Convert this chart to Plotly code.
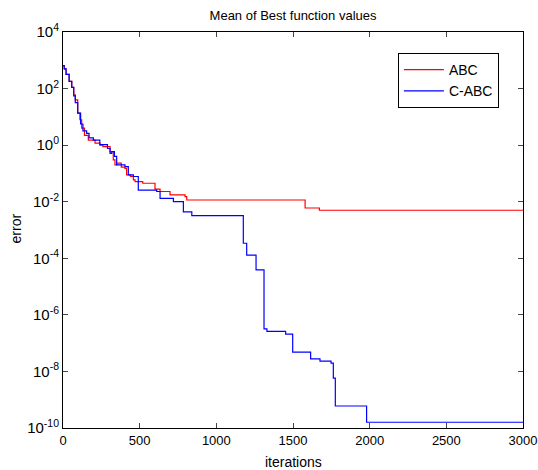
import plotly.graph_objects as go

# ABC (red) – iteration where value changes, and mean best value
abc_iter = [0, 8, 20, 40, 57, 70, 80, 96, 110, 122, 140, 165, 209, 241, 260, 307, 328, 339, 350,
            380, 404, 415, 440, 459, 470, 520, 567, 600, 633, 698, 796, 807, 1579, 1672, 3000]
abc_val = [6.5e2, 5.0e2, 3.2e2, 1.8e2, 1.1e2, 60, 40, 13.5, 7.9, 4.0, 2.2, 1.5, 1.17, 1.0, 0.89,
           0.59, 0.30, 0.20, 0.23, 0.166, 0.15, 0.089, 0.079, 0.059, 0.051, 0.045, 0.045, 0.028,
           0.023, 0.0174, 0.0151, 0.0115, 0.0060, 0.0050, 0.0050]

# C-ABC (blue)
cabc_iter = [0, 8, 20, 40, 57, 70, 80, 96, 115, 130, 154, 170, 198, 240, 290, 307, 318, 335, 350,
             404, 426, 459, 491, 611, 633, 720, 785, 840, 1176, 1198, 1259, 1311, 1330, 1452,
             1498, 1615, 1676, 1748, 1763, 1776, 1980, 3000]
cabc_val = [6.5e2, 5.0e2, 3.2e2, 1.8e2, 1.1e2, 55, 32, 13.5, 5.6, 3.2, 2.6, 1.8, 1.5, 1.05, 0.76,
            0.51, 0.59, 0.40, 0.20, 0.174, 0.089, 0.078, 0.0255, 0.023, 0.0132, 0.0100, 0.0044,
            0.0032, 3.4e-4, 1.3e-4, 3.9e-5, 3.2e-7, 2.6e-7, 2.1e-7, 4.8e-8, 2.8e-8, 2.3e-8,
            1.95e-8, 5.8e-9, 6.0e-10, 1.6e-10, 1.6e-10]

x_ticks = [0, 500, 1000, 1500, 2000, 2500, 3000]
y_exps = [4, 2, 0, -2, -4, -6, -8, -10]
y_ticks = [10.0 ** e for e in y_exps]
y_ticktext = ["10<sup>%d</sup>" % e for e in y_exps]

FONT = "Liberation Sans, Arial, sans-serif"

fig = go.Figure()
fig.add_trace(go.Scatter(x=abc_iter, y=abc_val, mode="lines", name="ABC",
                         line=dict(color="#ff0000", width=1.2, shape="hv")))
fig.add_trace(go.Scatter(x=cabc_iter, y=cabc_val, mode="lines", name="C-ABC",
                         line=dict(color="#0000ff", width=1.2, shape="hv")))

fig.update_layout(
    width=538, height=470,
    margin=dict(l=63, r=15, t=32, b=42),
    paper_bgcolor="white", plot_bgcolor="white",
    font=dict(family=FONT, size=13, color="black"),
    title=dict(text="Mean of Best function values", x=0.5447, xanchor="center",
               y=1 - 15 / 470, yanchor="middle", font=dict(size=13)),
    showlegend=True,
    legend=dict(x=0.728, y=0.947, xanchor="left", yanchor="top",
                bordercolor="black", borderwidth=1, bgcolor="white",
                font=dict(size=14), tracegroupgap=0, itemwidth=40,
                entrywidth=64),
    annotations=[
        dict(text="error", xref="paper", yref="paper", x=-0.103, y=0.503,
             textangle=-90, showarrow=False, font=dict(size=14),
             xanchor="center", yanchor="middle"),
        dict(text="iterations", xref="paper", yref="paper", x=0.5, y=-0.086,
             showarrow=False, font=dict(size=14), xanchor="center", yanchor="middle"),
    ],
)
fig.update_xaxes(range=[0, 3000], tickvals=x_ticks, ticks="inside", ticklen=5,
                 showline=True, linecolor="black", linewidth=1, mirror="ticks",
                 showgrid=False, zeroline=False, automargin=False,
                 ticklabeloverflow="allow", tickfont=dict(size=13))
fig.update_yaxes(type="log", range=[-10, 4], tickvals=y_ticks, ticktext=y_ticktext,
                 ticks="inside", ticklen=5, showline=True, linecolor="black", linewidth=1,
                 mirror="ticks", showgrid=False, zeroline=False, automargin=False,
                 ticklabeloverflow="allow", tickfont=dict(size=15))

# remove the page's default body margin so the figure sits at the window's corner
fig.write_html("out.html", config={"displayModeBar": False},
               post_script="document.body.style.margin='0';document.body.style.overflow='hidden';")
